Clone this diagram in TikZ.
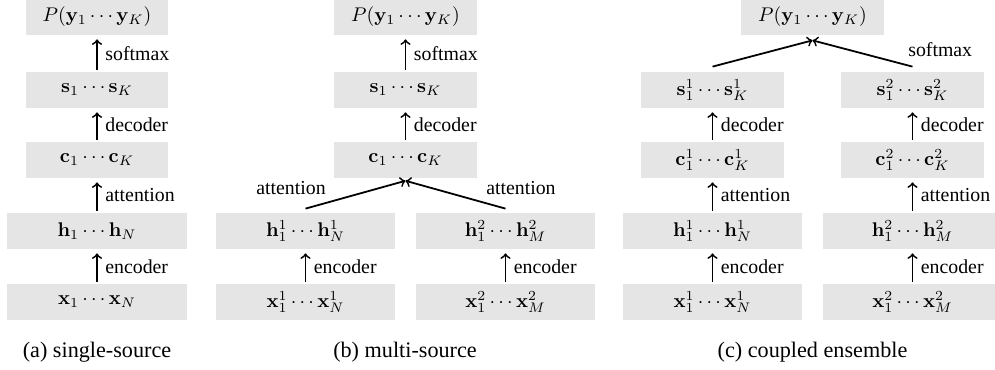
\documentclass[tikz,border=0pt]{standalone}
\usepackage[no-math]{fontspec}
\setmainfont{Liberation Serif}
\begin{document}
\begin{tikzpicture}[x=0.505pt,y=-0.505pt,
  font=\fontsize{10}{12}\selectfont,
  box/.style={fill=black!10, minimum height=18.2pt, inner sep=0pt},
  sbox/.style={box, minimum width=72.2pt},
  wbox/.style={box, minimum width=90.4pt},
  arr/.style={->, line width=0.9pt, shorten <=1pt, shorten >=2pt},
  darr/.style={->, line width=0.9pt},
  lab/.style={right, inner sep=3.8pt},
  dlab/.style={inner sep=3pt},
  captext/.style={font=\fontsize{11.2}{13}\selectfont, anchor=base}]
\useasboundingbox (0,0) rectangle (995,369);

% (a) single-source
\node[sbox] (aP) at (97,17) {$P(\mathbf{y}_1\cdots\mathbf{y}_K)$};
\node[sbox] (as) at (97,90) {$\mathbf{s}_1\cdots\mathbf{s}_K$};
\node[sbox] (ac) at (97,160) {$\mathbf{c}_1\cdots\mathbf{c}_K$};
\node[wbox] (ah) at (97,231) {$\mathbf{h}_1\cdots\mathbf{h}_N$};
\node[wbox] (ax) at (97,302) {$\mathbf{x}_1\cdots\mathbf{x}_N$};
\draw[arr] (as) -- node[lab]{softmax} (aP);
\draw[arr] (ac) -- node[lab]{decoder} (as);
\draw[arr] (ah) -- node[lab]{attention} (ac);
\draw[arr] (ax) -- node[lab]{encoder} (ah);
\node[captext] (capa) at (97,357) {(a) single-source};

% (b) multi-source
\node[sbox] (bP) at (405.5,17) {$P(\mathbf{y}_1\cdots\mathbf{y}_K)$};
\node[sbox] (bs) at (405.5,90) {$\mathbf{s}_1\cdots\mathbf{s}_K$};
\node[sbox] (bc) at (405.5,160) {$\mathbf{c}_1\cdots\mathbf{c}_K$};
\node[wbox] (bh1) at (305.5,231) {$\mathbf{h}^1_1\cdots\mathbf{h}^1_N$};
\node[wbox] (bh2) at (505.5,231) {$\mathbf{h}^2_1\cdots\mathbf{h}^2_M$};
\node[wbox] (bx1) at (305.5,302) {$\mathbf{x}^1_1\cdots\mathbf{x}^1_N$};
\node[wbox] (bx2) at (505.5,302) {$\mathbf{x}^2_1\cdots\mathbf{x}^2_M$};
\coordinate (bm) at ([yshift=-1.2pt]bc.south);
\draw[arr] (bs) -- node[lab]{softmax} (bP);
\draw[arr] (bc) -- node[lab]{decoder} (bs);
\draw[darr] ([yshift=2pt]bh1.north) -- node[pos=0.27, above left, dlab]{attention} (bm);
\draw[darr] ([yshift=2pt]bh2.north) -- node[pos=0.26, above right, dlab]{attention} (bm);
\draw[arr] (bx1) -- node[lab]{encoder} (bh1);
\draw[arr] (bx2) -- node[lab]{encoder} (bh2);
\node[captext] (capb) at (405,357) {(b) multi-source};

% (c) coupled ensemble
\node[sbox] (cP) at (812.5,17) {$P(\mathbf{y}_1\cdots\mathbf{y}_K)$};
\node[sbox] (cs1) at (712.5,90) {$\mathbf{s}^1_1\cdots\mathbf{s}^1_K$};
\node[sbox] (cs2) at (912.5,90) {$\mathbf{s}^2_1\cdots\mathbf{s}^2_K$};
\node[sbox] (cc1) at (712.5,160) {$\mathbf{c}^1_1\cdots\mathbf{c}^1_K$};
\node[sbox] (cc2) at (912.5,160) {$\mathbf{c}^2_1\cdots\mathbf{c}^2_K$};
\node[wbox] (ch1) at (712.5,231) {$\mathbf{h}^1_1\cdots\mathbf{h}^1_N$};
\node[wbox] (ch2) at (912.5,231) {$\mathbf{h}^2_1\cdots\mathbf{h}^2_M$};
\node[wbox] (cx1) at (712.5,302) {$\mathbf{x}^1_1\cdots\mathbf{x}^1_N$};
\node[wbox] (cx2) at (912.5,302) {$\mathbf{x}^2_1\cdots\mathbf{x}^2_M$};
\coordinate (cm) at ([yshift=-2.5pt]cP.south);
\draw[darr] ([yshift=2.5pt]cs1.north) -- (cm);
\draw[darr] ([yshift=2.5pt]cs2.north) -- node[pos=0.11, above right, dlab]{softmax} (cm);
\draw[arr] (cc1) -- node[lab]{decoder} (cs1);
\draw[arr] (cc2) -- node[lab]{decoder} (cs2);
\draw[arr] (ch1) -- node[lab]{attention} (cc1);
\draw[arr] (ch2) -- node[lab]{attention} (cc2);
\draw[arr] (cx1) -- node[lab]{encoder} (ch1);
\draw[arr] (cx2) -- node[lab]{encoder} (ch2);
\node[captext] (capc) at (812.5,357) {(c) coupled ensemble};
\end{tikzpicture}
\end{document}
